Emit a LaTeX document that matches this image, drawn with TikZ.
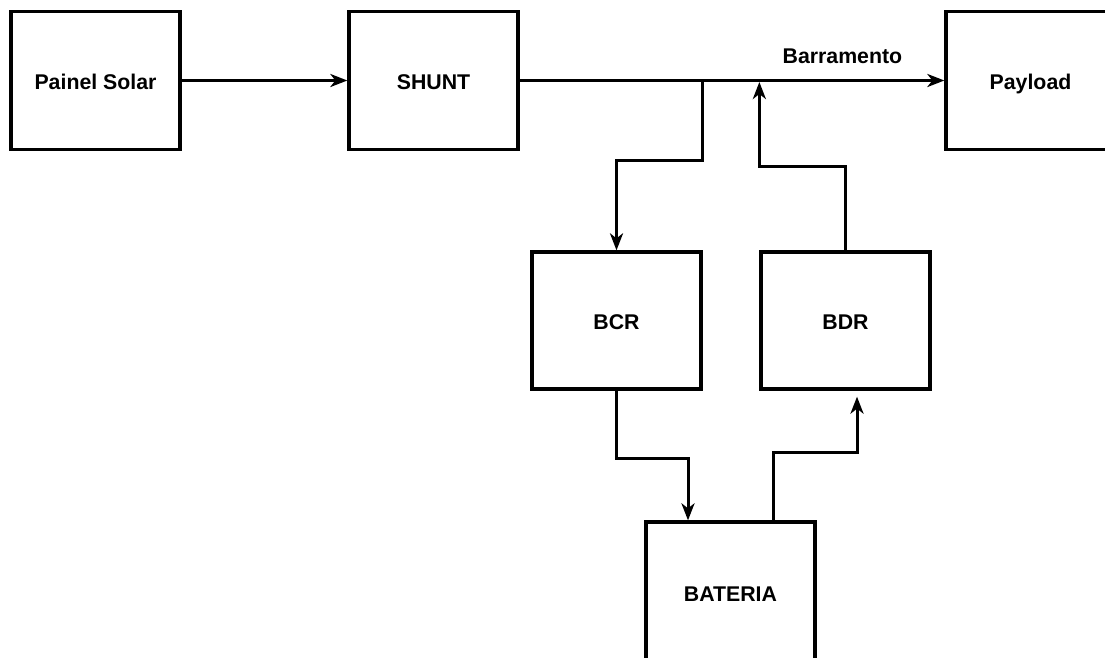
\documentclass[tikz,border=0pt]{standalone}
\usepackage{fontspec}
\setmainfont{Liberation Sans}
\usetikzlibrary{arrows.meta}
\begin{document}
\begin{tikzpicture}[x=1pt,y=-1pt,
  blk/.style={draw=black, line width=3.3pt, fill=white, rectangle,
    minimum width=169pt, minimum height=138pt, inner sep=0pt,
    text height=18.3pt, text depth=0pt,
    font=\fontsize{21.3}{25}\selectfont\bfseries},
  conn/.style={draw=black, line width=3pt,
    -{Stealth[length=17pt,width=13pt,inset=5pt]}}]
\useasboundingbox (0,0) rectangle (1105,657);
\clip (0,0) rectangle (1105,657);
\fill[white] (0,0) rectangle (1105,657);
\node[blk] (painel) at (95.5,80.5) {Painel Solar};
\node[blk] (shunt) at (433.5,80.5) {SHUNT};
\node[blk] (payload) at (1030.5,80.5) {Payload};
\node[blk, minimum height=137pt] (bcr) at (616.5,320.5) {BCR};
\node[blk, minimum height=137pt] (bdr) at (845.5,320.5) {BDR};
\node[blk, minimum height=140pt] (bat) at (730.5,592) {BATERIA};
\coordinate (j1) at (bcr.east |- shunt.east);
\coordinate (j2) at (bdr.west |- shunt.east);
\coordinate (batin) at ([xshift=-42.5pt]bat.north);
\coordinate (batout) at ([xshift=42.5pt]bat.north);
\coordinate (bdrin) at ([xshift=11.5pt]bdr.south);
\draw[conn] (painel.east) -- (shunt.west);
\draw[conn] (shunt.east) -- node[pos=0.76, above=12pt, font=\fontsize{21.3}{25}\selectfont\bfseries] (lbl) {Barramento} (payload.west);
\draw[conn] (j1) -- ++(0,80) -| (bcr.north);
\draw[conn, shorten >=1.5pt] (bdr.north) -- ++(0,-83.5) -| (j2);
\draw[conn] (bcr.south) -- ++(0,68) -| (batin);
\draw[conn, shorten >=6pt] (batout) -- ++(0,-68) -| (bdrin);
\end{tikzpicture}
\end{document}
